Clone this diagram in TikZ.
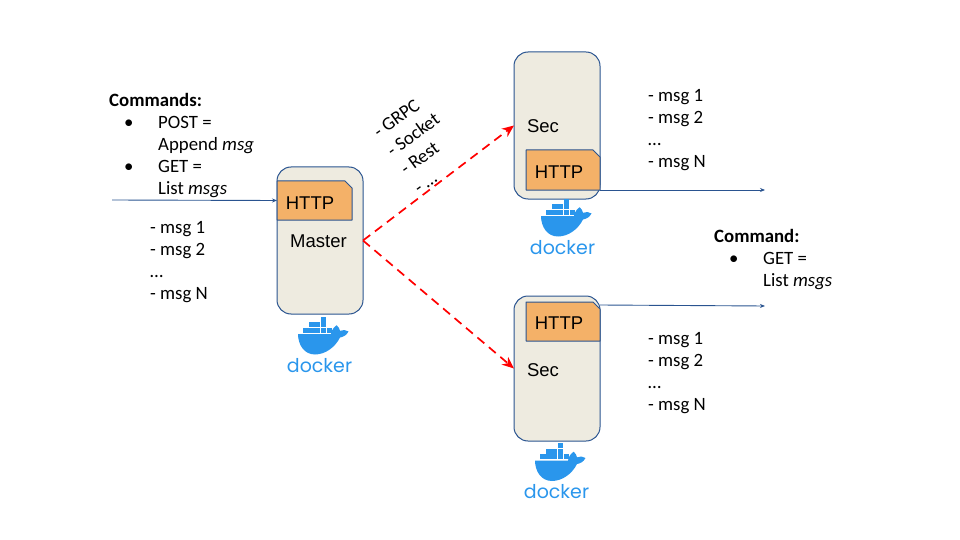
\documentclass[tikz,border=0pt]{standalone}
\usepackage{fontspec}
\setmainfont{Carlito}
\newfontfamily\arialf{Liberation Sans}
\newfontfamily\dockerf{Poppins}
\usetikzlibrary{calc,arrows.meta}
\definecolor{boxfill}{HTML}{EEEBE0}
\definecolor{boxline}{HTML}{2A5490}
\definecolor{httpfill}{HTML}{F4B168}
\definecolor{dockblue}{HTML}{2A96EC}
\newcommand{\blt}{\hspace{15pt}\makebox[34pt][l]{\textbullet}}
\newcommand{\snipbox}[1]{\draw[snipped] (#1.south west) -- (#1.north west) -- ($(#1.north east)+(-7,0)$) -- ($(#1.north east)+(0,7)$) -- (#1.south east) -- cycle;}
\tikzset{
  container/.style={draw=boxline,fill=boxfill,rounded corners=14pt,line width=1pt,minimum width=86pt,inner sep=0pt,outer sep=0pt},
  httpbox/.style={rectangle,inner sep=0pt,outer sep=0pt,minimum height=39pt,minimum width=75pt},
  snipped/.style={draw=boxline,fill=httpfill,line width=1pt,line join=round},
  boxlabel/.style={inner sep=0pt,font=\arialf\fontsize{18.5}{20}\selectfont},
  plainlabel/.style={inner sep=0pt,anchor=north west,align=left,font=\fontsize{18.8}{22}\selectfont},
  link/.style={draw=boxline,line width=0.9pt,-{Stealth[length=5pt,width=4pt]}},
  rpc/.style={draw=red,dash pattern=on 9pt off 6pt,line width=1.7pt,-{Stealth[length=12pt,width=10pt]}},
  dockerlogo/.pic={
    \fill[dockblue] (0,17.5) -- (33,17.5) .. controls (33.5,13.5) and (36,10.5) .. (38.7,8.7) .. controls (40.5,10.5) and (41.8,12.5) .. (42,14.3) .. controls (45,13) and (48,13.3) .. (50.5,15) .. controls (48.5,19) and (45,20.5) .. (42,21) .. controls (37,31) and (27,38) .. (17,38) .. controls (6,38) and (0,28) .. (0,17.5) -- cycle;
    \foreach \x/\y in {23/0, 11.2/5.5, 17.1/5.5, 23/5.5, 5.3/11, 11.2/11, 17.1/11, 23/11, 28.9/11}
      \fill[dockblue] (\x,\y) rectangle ++(5.3,5);
    \node[inner sep=0pt,anchor=base,text=dockblue,font=\dockerf\fontsize{19}{20}\selectfont] at (21.5,55.5) {docker};
  }
}
\begin{document}
\begin{tikzpicture}[x=1pt,y=-1pt]
\useasboundingbox (0,0) rectangle (960,540);
\node[container,minimum height=147pt,anchor=north west] (master) at (277,167) {};
\node[container,minimum height=147pt,anchor=north west] (secone) at (514,52) {};
\node[container,minimum height=145pt,anchor=north west] (sectwo) at (514,296) {};
\node[httpbox,anchor=north west] (httpm) at (277,181) {};
\node[httpbox,minimum width=74pt,minimum height=40pt,anchor=north west] (httpa) at (526,150) {};
\node[httpbox,minimum width=74pt,anchor=north west] (httpb) at (526,302) {};
\snipbox{httpm}
\snipbox{httpa}
\snipbox{httpb}
\node[boxlabel] (httpmtext) at (310,203) {HTTP};
\node[boxlabel] (httpatext) at (559,172) {HTTP};
\node[boxlabel] (httpbtext) at (559,323) {HTTP};
\node[boxlabel] (mastertext) at (318.5,241) {Master};
\node[boxlabel] (seconetext) at (543,126) {Sec};
\node[boxlabel] (sectwotext) at (543,370) {Sec};
\pic at (298,316.5) {dockerlogo};
\pic at (541,198.5) {dockerlogo};
\pic at (535,443) {dockerlogo};
\coordinate (inbound) at (112,200);
\coordinate (outa) at (765,190);
\coordinate (startb) at (600,305);
\coordinate (outb) at (765,306);
\draw[link] (inbound) -- (httpm.west);
\draw[link] (httpa.south east) -- (outa);
\draw[link] (startb) -- (outb);
\draw[rpc] (master.east) -- (secone.west);
\draw[rpc] (master.east) -- (sectwo.west);
\node[plainlabel] (cmds) at (109,93) {\textbf{Commands:}\\\blt POST =\\\hspace*{49pt}Append \textit{msg}\\\blt GET =\\\hspace*{49pt}List \textit{msgs}};
\node[plainlabel] (cmd) at (714,229) {\textbf{Command:}\\\blt GET =\\\hspace*{49pt}List \textit{msgs}};
\node[plainlabel] (listm) at (150,221) {- msg 1\\- msg 2\\…\\- msg N};
\node[plainlabel] (lista) at (648,89) {- msg 1\\- msg 2\\…\\- msg N};
\node[plainlabel] (listb) at (648,332) {- msg 1\\- msg 2\\…\\- msg N};
\node[inner sep=0pt,rotate=36,align=left,font=\fontsize{18.8}{23}\selectfont] (proto) at (420,144) {- GRPC\\- Socket\\- Rest\\- …};
\end{tikzpicture}
\end{document}
